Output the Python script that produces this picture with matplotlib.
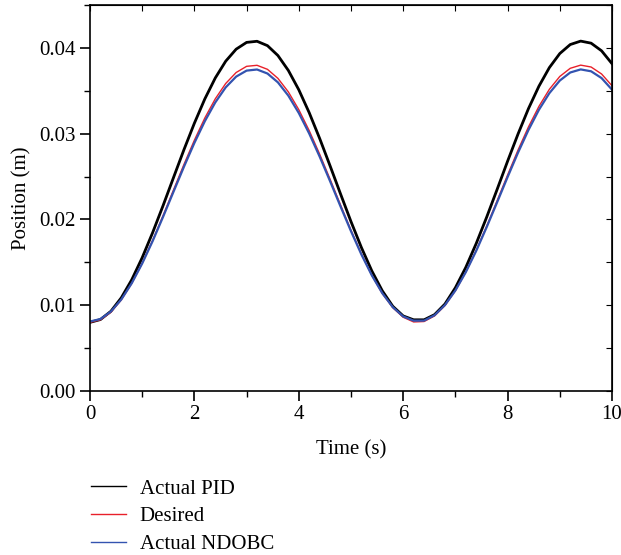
import matplotlib
matplotlib.use('Agg')
import matplotlib.pyplot as plt
from matplotlib.ticker import MultipleLocator

# time samples (s)
t = [0.0, 0.2, 0.4, 0.6, 0.8, 1.0, 1.2, 1.4, 1.6, 1.8, 2.0, 2.2, 2.4, 2.6,
     2.8, 3.0, 3.2, 3.4, 3.6, 3.8, 4.0, 4.2, 4.4, 4.6, 4.8, 5.0, 5.2, 5.4,
     5.6, 5.8, 6.0, 6.2, 6.4, 6.6, 6.8, 7.0, 7.2, 7.4, 7.6, 7.8, 8.0, 8.2,
     8.4, 8.6, 8.8, 9.0, 9.2, 9.4, 9.6, 9.8, 10.0]

# position (m)
pid = [0.00800, 0.00833, 0.00929, 0.01087, 0.01297, 0.01554, 0.01846, 0.02161,
       0.02488, 0.02813, 0.03122, 0.03405, 0.03649, 0.03845, 0.03985, 0.04064,
       0.04077, 0.04026, 0.03911, 0.03737, 0.03512, 0.03244, 0.02944, 0.02624,
       0.02297, 0.01975, 0.01672, 0.01399, 0.01168, 0.00988, 0.00875, 0.00830,
       0.00830, 0.00890, 0.01014, 0.01204, 0.01442, 0.01721, 0.02028, 0.02351,
       0.02679, 0.02996, 0.03292, 0.03553, 0.03770, 0.03934, 0.04039, 0.04079,
       0.04055, 0.03966, 0.03816]
desired = [0.00800, 0.00830, 0.00918, 0.01062, 0.01255, 0.01490, 0.01756, 0.02045,
           0.02344, 0.02641, 0.02924, 0.03183, 0.03406, 0.03585, 0.03713, 0.03785,
           0.03797, 0.03750, 0.03645, 0.03487, 0.03280, 0.03035, 0.02761, 0.02468,
           0.02169, 0.01874, 0.01597, 0.01348, 0.01137, 0.00972, 0.00860, 0.00805,
           0.00810, 0.00875, 0.00996, 0.01169, 0.01387, 0.01642, 0.01923, 0.02219,
           0.02518, 0.02809, 0.03079, 0.03318, 0.03517, 0.03667, 0.03762, 0.03799,
           0.03777, 0.03696, 0.03559]
ndobc = [0.00810, 0.00839, 0.00926, 0.01067, 0.01256, 0.01486, 0.01747, 0.02030,
         0.02323, 0.02614, 0.02892, 0.03145, 0.03364, 0.03540, 0.03665, 0.03735,
         0.03748, 0.03701, 0.03598, 0.03443, 0.03241, 0.03001, 0.02732, 0.02445,
         0.02151, 0.01863, 0.01591, 0.01347, 0.01140, 0.00978, 0.00869, 0.00820,
         0.00820, 0.00883, 0.01002, 0.01172, 0.01386, 0.01635, 0.01911, 0.02201,
         0.02494, 0.02779, 0.03043, 0.03278, 0.03472, 0.03619, 0.03713, 0.03749,
         0.03727, 0.03648, 0.03513]

plt.rcParams['font.family'] = ['Liberation Serif', 'DejaVu Serif']
plt.rcParams['font.size'] = 15

fig = plt.figure(figsize=(6.21, 5.55), dpi=100)
ax = fig.add_axes([0.1449, 0.2955, 0.8406, 0.6955])

ax.plot(t, pid, color='black', lw=2.0, label='Actual PID', solid_joinstyle='round')
ax.plot(t, desired, color='#e8202a', lw=1.0, label='Desired', solid_joinstyle='round')
ax.plot(t, ndobc, color='#3353b0', lw=1.6, label='Actual NDOBC', solid_joinstyle='round')

ax.set_xlim(0, 10)
ax.set_ylim(0, 0.045)
ax.xaxis.set_major_locator(MultipleLocator(2))
ax.xaxis.set_minor_locator(MultipleLocator(1))
ax.yaxis.set_major_locator(MultipleLocator(0.01))
ax.yaxis.set_minor_locator(MultipleLocator(0.005))
ax.yaxis.set_major_formatter(plt.FormatStrFormatter('%.2f'))
ax.tick_params(which='both', direction='out', top=False, right=False, pad=3)
ax.tick_params(which='major', length=7, width=1.2)
ax.tick_params(which='minor', length=4, width=1.0)

# inward ticks on top and right spines
sec_x = ax.secondary_xaxis('top')
sec_x.xaxis.set_major_locator(MultipleLocator(1))
sec_x.tick_params(direction='in', length=4, labeltop=False)
sec_y = ax.secondary_yaxis('right')
sec_y.yaxis.set_major_locator(MultipleLocator(0.005))
sec_y.tick_params(direction='in', length=4, labelright=False)

for s in ax.spines.values():
    s.set_linewidth(1.2)

ax.set_xlabel('Time (s)', labelpad=12)
ax.set_ylabel('Position (m)', labelpad=6)

h, l = ax.get_legend_handles_labels()
leg = fig.legend(h, l, loc='upper left', bbox_to_anchor=(0.146, 0.137), frameon=False,
                 handlelength=1.7, handletextpad=0.65, labelspacing=0.4,
                 borderpad=0, borderaxespad=0)
for ln in leg.get_lines():
    ln.set_linewidth(1.0)

fig.savefig('out.png', dpi=100)
